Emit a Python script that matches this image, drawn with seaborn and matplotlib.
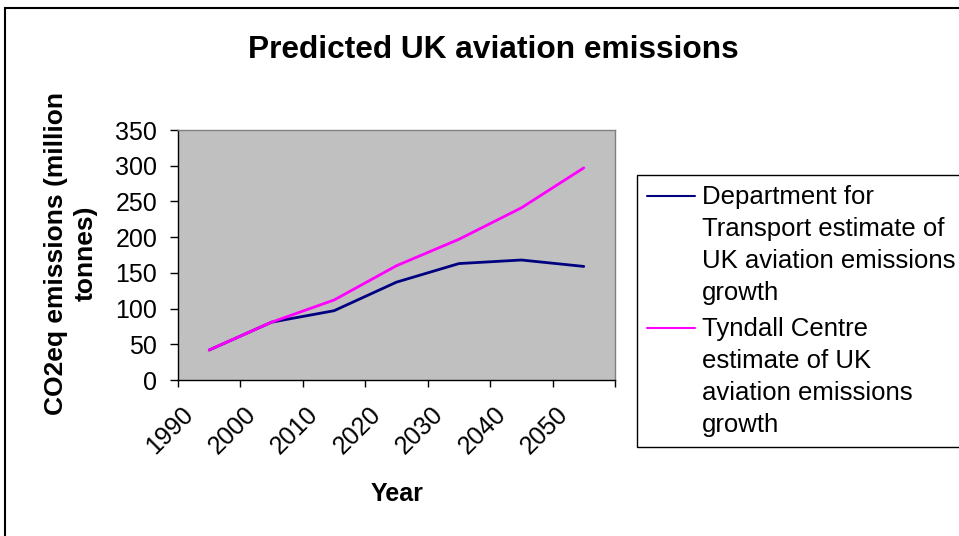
import matplotlib
matplotlib.use('Agg')
import matplotlib.pyplot as plt
import matplotlib.transforms as mtransforms
from matplotlib.legend_handler import HandlerLine2D
from matplotlib.patches import Rectangle
import pandas as pd
import seaborn as sns

years = ['1990', '2000', '2010', '2020', '2030', '2040', '2050']
dft_estimate = [42, 81, 97, 137, 163, 168, 159]
tyndall_estimate = [42, 81, 112, 160, 197, 241, 297]

dft_label = 'Department for\nTransport estimate of\nUK aviation emissions\ngrowth'
tyndall_label = 'Tyndall Centre\nestimate of UK\naviation emissions\ngrowth'
y_ticks = [0, 50, 100, 150, 200, 250, 300, 350]


class FirstLineHandler(HandlerLine2D):
    # put the legend line next to the first line of a multi-line label
    def __init__(self, lift, **kw):
        super().__init__(**kw)
        self.lift = lift

    def create_artists(self, legend, orig_handle, xdescent, ydescent,
                       width, height, fontsize, trans):
        return super().create_artists(legend, orig_handle, xdescent,
                                      ydescent - 2 * self.lift, width, height,
                                      fontsize, trans)


def build_data() -> pd.DataFrame:
    dft = pd.DataFrame({'Year': years, 'Emissions': dft_estimate, 'Series': dft_label})
    tyn = pd.DataFrame({'Year': years, 'Emissions': tyndall_estimate, 'Series': tyndall_label})
    return pd.concat([dft, tyn], ignore_index=True)


def plot_emissions(data: pd.DataFrame) -> None:
    sns.set_style(style='ticks')
    plt.rcParams['font.family'] = ['Liberation Sans', 'DejaVu Sans']
    for key in ['text.color', 'axes.labelcolor', 'xtick.color', 'ytick.color']:
        plt.rcParams[key] = 'black'

    fig = plt.figure(figsize=(9.59, 5.36), dpi=100)
    fig.patch.set_facecolor('white')
    W, H = 959, 536
    ax = fig.add_axes([178 / W, 1 - 380 / H, (615 - 178) / W, 250 / H])

    sns.lineplot(data=data, x='Year', y='Emissions', hue='Series',
                 palette={dft_label: '#000080', tyndall_label: '#FF00FF'},
                 linewidth=2, sort=False, ax=ax)

    ax.set_facecolor('#C0C0C0')
    ax.set_xlim(-0.5, len(years) - 0.5)
    ax.set_ylim(0, 350)
    ax.set_yticks(y_ticks)
    ax.set_xticks(range(len(years)))
    ax.set_xticklabels(years)
    ax.set_xticks([i - 0.5 for i in range(len(years) + 1)], minor=True)

    for side in ['top', 'right']:
        ax.spines[side].set_color('#808080')
        ax.spines[side].set_linewidth(1)
    for side in ['left', 'bottom']:
        ax.spines[side].set_color('black')
        ax.spines[side].set_linewidth(1)

    ax.tick_params(axis='y', length=6, width=1, pad=9, labelsize=18, colors='black')
    ax.tick_params(axis='x', which='major', length=0, pad=16, labelsize=18)
    ax.tick_params(axis='x', which='minor', length=5, width=1, color='black')

    shift = mtransforms.ScaledTranslation(-11 / 100, 0, fig.dpi_scale_trans)
    for label in ax.get_xticklabels():
        label.set_rotation(45)
        label.set_ha('right')
        label.set_va('top')
        label.set_transform(label.get_transform() + shift)

    ax.set_xlabel('Year', fontsize=18, weight='bold')
    ax.xaxis.set_label_coords((397 - 178) / 437, -(501 - 380) / 250)
    ax.xaxis.label.set_va('baseline')
    ax.set_ylabel('CO2eq emissions (million\ntonnes)', fontsize=19, weight='bold',
                  linespacing=1.3)
    ax.yaxis.set_label_coords(-(178 - 98) / 437, (380 - 253) / 250)

    fig.text(493 / W, 1 - 50 / H, 'Predicted UK aviation emissions',
             fontsize=22.8, weight='bold', ha='center', va='center')

    # 1.5 text lines above the centre, in points
    lift = 1.5 * 33 * 72 / 100
    leg = ax.legend(loc='upper left', bbox_to_anchor=(637 / W, 1 - 175 / H),
                    bbox_transform=fig.transFigure, fontsize=18.5, frameon=True,
                    fancybox=False, handlelength=1.87, handletextpad=0.27,
                    borderpad=0.4, borderaxespad=0, labelspacing=0.5,
                    handler_map={plt.Line2D: FirstLineHandler(lift)})
    leg.get_frame().set_edgecolor('black')
    leg.get_frame().set_linewidth(1)
    leg.get_frame().set_facecolor('white')
    leg.get_frame().set_alpha(1)
    for text in leg.get_texts():
        text.set_linespacing(1.41)
    for line in leg.get_lines():
        line.set_linewidth(1.5)

    fig.patches.append(Rectangle((5 / W, -0.1), 1.2, 1 - 8 / H + 0.1,
                                 transform=fig.transFigure, fill=False,
                                 edgecolor='black', linewidth=1.5, clip_on=False))

    fig.savefig('out.png', dpi=100)
    plt.close(fig=fig)


if __name__ == '__main__':
    plot_emissions(build_data())
